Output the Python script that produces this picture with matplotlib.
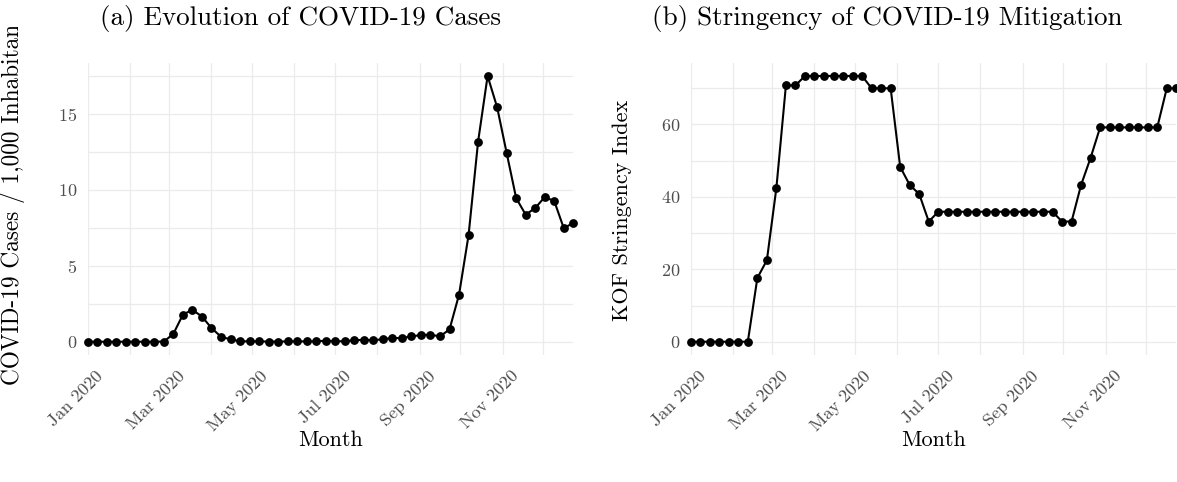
import matplotlib
matplotlib.use("Agg")
import matplotlib.pyplot as plt
import matplotlib.dates as mdates
import matplotlib.transforms as mtransforms
import pandas as pd

plt.rcParams["font.family"] = "serif"
plt.rcParams["font.serif"] = ["cmr10", "DejaVu Serif"]
plt.rcParams["axes.formatter.use_mathtext"] = True

# weekly observations, 2020
weeks = pd.date_range("2020-01-01", periods=52, freq="7D")

cases = [
    0.0, 0.0, 0.0, 0.0, 0.0, 0.0, 0.0, 0.0, 0.01, 0.52,
    1.79, 2.10, 1.66, 0.90, 0.33, 0.15, 0.03, 0.02, 0.02, 0.01,
    0.01, 0.02, 0.02, 0.02, 0.02, 0.07, 0.02, 0.04, 0.09, 0.13,
    0.09, 0.17, 0.24, 0.24, 0.35, 0.44, 0.46, 0.35, 0.81, 3.10,
    7.02, 13.18, 17.51, 15.45, 12.44, 9.46, 8.37, 8.81, 9.53, 9.27,
    7.48, 7.83,
]

stringency = [
    0.0, 0.0, 0.0, 0.0, 0.0, 0.0, 0.0, 17.6, 22.5, 42.5,
    70.8, 70.8, 73.4, 73.4, 73.4, 73.4, 73.4, 73.4, 73.4, 70.0,
    70.0, 70.0, 48.3, 43.3, 40.8, 33.2, 35.9, 35.9, 35.9, 35.9,
    35.9, 35.9, 35.9, 35.9, 35.9, 35.9, 35.9, 35.9, 35.9, 33.2,
    33.2, 43.3, 50.8, 59.2, 59.2, 59.2, 59.2, 59.2, 59.2, 59.2,
    70.0, 70.0,
]

titles = ["(a) Evolution of COVID-19 Cases", "(b) Stringency of COVID-19 Mitigation"]
ylabels = ["COVID-19 Cases / 1,000 Inhabitants", "KOF Stringency Index"]
yticks = [[0, 5, 10, 15], [0, 20, 40, 60]]
yminor = [[2.5, 7.5, 12.5, 17.5], [10, 30, 50, 70]]

W, H = 1177, 482
fig = plt.figure(figsize=(W / 100, H / 100), dpi=100)

# panel boxes in pixels: left, right, top, bottom
boxes = [(87.7, 573.3, 62.7, 355), (690.7, 1176.3, 62.7, 355)]
title_x = [300, 887]
ylabel_x = [13, 622]

for i, series in enumerate([cases, stringency]):
    l, r, t, b = boxes[i]
    ax = fig.add_axes([l / W, 1 - b / H, (r - l) / W, (b - t) / H])
    ax.plot(weeks, series, color="black", lw=1.5, marker="o", ms=5.3,
            clip_on=False, zorder=3)

    ax.set_xlim(weeks[0], weeks[-1])
    lo, hi = min(series), max(series)
    pad = 0.05 * (hi - lo)
    ax.set_ylim(lo - pad, hi + pad)

    ax.xaxis.set_major_locator(mdates.MonthLocator(bymonth=[1, 3, 5, 7, 9, 11]))
    ax.xaxis.set_minor_locator(mdates.MonthLocator(bymonth=[2, 4, 6, 8, 10, 12]))
    ax.xaxis.set_major_formatter(mdates.DateFormatter("%b %Y"))
    ax.set_yticks(yticks[i])
    ax.set_yticks(yminor[i], minor=True)

    for s in ax.spines.values():
        s.set_visible(False)
    ax.grid(True, which="both", color="#ebebeb", lw=0.9)
    ax.set_axisbelow(True)
    ax.tick_params(which="both", length=0)
    ax.tick_params(axis="y", labelsize=13, labelcolor="#4d4d4d", pad=7.5)
    ax.tick_params(axis="x", labelsize=13, labelcolor="#4d4d4d", pad=0)
    shift = mtransforms.ScaledTranslation(0.08, -0.13, fig.dpi_scale_trans)
    for lab in ax.get_xticklabels():
        lab.set_rotation(45)
        lab.set_ha("right")
        lab.set_va("top")
        lab.set_rotation_mode("anchor")
        lab.set_transform(lab.get_transform() + shift)

    fig.text(title_x[i] / W, 1 - 18 / H, titles[i], ha="center", va="center",
             fontsize=19.5)
    fig.text(((l + r) / 2) / W, 1 - 440 / H, "Month", ha="center",
             va="center", fontsize=16)

# y labels: the left one is longer than its slot and gets cut under the title
yl = fig.text(ylabel_x[0] / W, 1 - 385 / H, ylabels[0], rotation=90,
              ha="center", va="bottom", fontsize=16.8)
yl.set_clip_box(mtransforms.Bbox.from_extents(0, 0, W, H - 27))
yl.set_clip_on(True)
fig.text(ylabel_x[1] / W, 1 - 210 / H, ylabels[1], rotation=90,
         ha="center", va="center", fontsize=16)

fig.savefig("out.png", dpi=100)
